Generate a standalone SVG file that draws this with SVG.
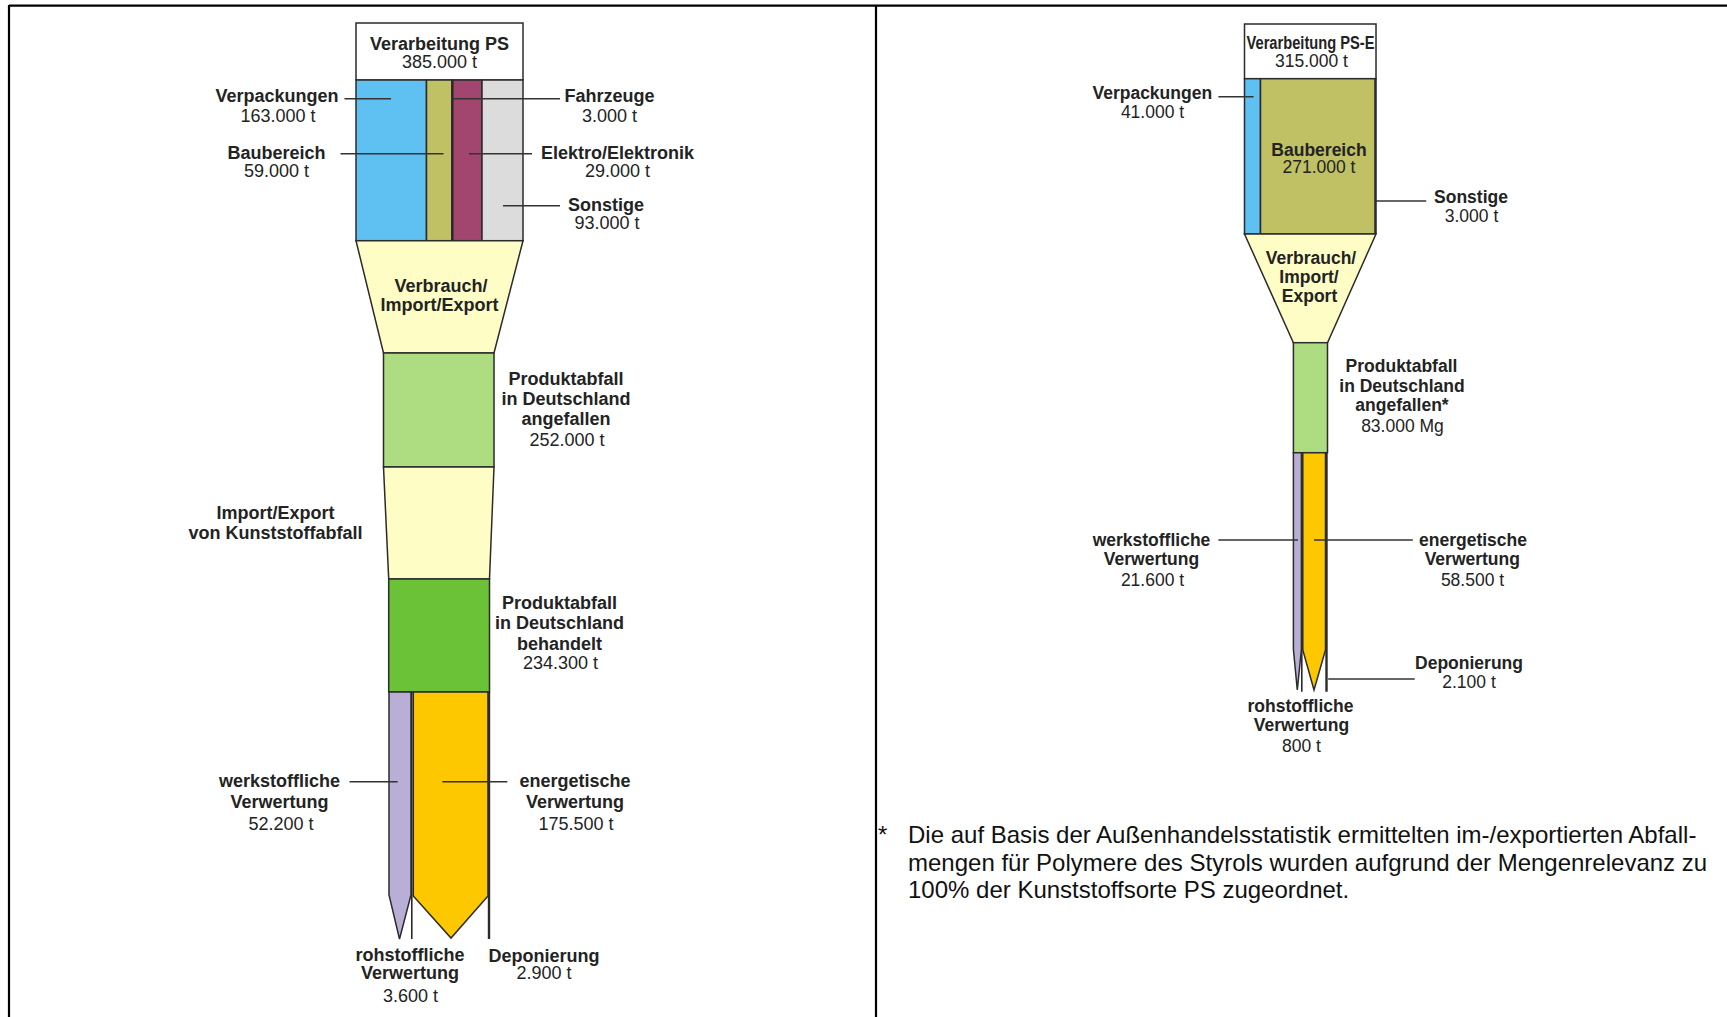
<svg xmlns="http://www.w3.org/2000/svg" width="1727" height="1017" viewBox="0 0 1727 1017">
  <style>
    text { font-family: "Liberation Sans", Arial, sans-serif; fill: #232323; text-anchor: middle; }
    .b { font-weight: bold; font-size: 18px; }
    .n { font-size: 18px; }
    .rb { font-weight: bold; font-size: 17.5px; }
    .rn { font-size: 17.5px; }
    .note { font-size: 24px; text-anchor: start; fill: #111; }
    .shape { stroke: #2b2b2b; stroke-width: 1.5; stroke-linejoin: miter; }
    .thin { stroke: #2b2b2b; stroke-width: 1.6; fill: none; }
    .thick { stroke: #2b2b2b; stroke-width: 2.4; fill: none; }
    .lead { stroke: #333; stroke-width: 1.6; fill: none; }
    .frame { stroke: #000; stroke-width: 2.2; fill: none; }
    .white { fill: #ffffff; }
    .blue { fill: #5fc0f2; }
    .olive { fill: #c0c064; }
    .purple { fill: #a3466f; }
    .grey { fill: #dcdcdc; }
    .cream { fill: #fffdc6; }
    .lgreen { fill: #addd80; }
    .dgreen { fill: #6bc236; }
    .lav { fill: #b9afd6; }
    .amber { fill: #fdc800; }
  </style>

  <rect width="1727" height="1017" fill="#ffffff"/>

  <!-- page frame and column divider -->
  <g id="frame">
    <line class="frame" x1="9" y1="5.7" x2="1727" y2="5.7"/>
    <line class="frame" x1="9" y1="5" x2="9" y2="1017"/>
    <line class="frame" x1="876" y1="5" x2="876" y2="1017"/>
  </g>

  <!-- ===== PS (left column) ===== -->
  <g id="ps-verarbeitung">
    <rect class="shape white" x="356" y="23" width="167" height="57"/>
    <text class="b" x="439.5" y="49.5">Verarbeitung PS</text>
    <text class="n" x="439.5" y="68">385.000 t</text>
  </g>

  <g id="ps-verpackungen">
    <rect class="shape blue" x="356" y="80" width="70.5" height="160.7"/>
    <text class="b" x="277" y="102">Verpackungen</text>
    <text class="n" x="278" y="121.5">163.000 t</text>
  </g>
  <g id="ps-baubereich">
    <rect class="shape olive" x="426.5" y="80" width="25.3" height="160.7"/>
    <text class="b" x="276.5" y="158.7">Baubereich</text>
    <text class="n" x="276.5" y="177">59.000 t</text>
  </g>
  <g id="ps-elektro">
    <rect class="shape purple" x="451.8" y="80" width="30.2" height="160.7"/>
    <text class="b" x="617.5" y="158.7">Elektro/Elektronik</text>
    <text class="n" x="617.5" y="177">29.000 t</text>
  </g>
  <g id="ps-fahrzeuge">
    <line class="thin" x1="452.8" y1="80" x2="452.8" y2="240.7"/>
    <text class="b" x="609.5" y="102">Fahrzeuge</text>
    <text class="n" x="609.5" y="121.5">3.000 t</text>
  </g>
  <g id="ps-sonstige">
    <rect class="shape grey" x="482" y="80" width="41" height="160.7"/>
    <text class="b" x="606" y="210.5">Sonstige</text>
    <text class="n" x="607" y="228.7">93.000 t</text>
  </g>

  <g id="ps-verbrauch">
    <polygon class="shape cream" points="356,240.7 523,240.7 494,353 383.5,353"/>
    <text class="b" x="441" y="291.5">Verbrauch/</text>
    <text class="b" x="439.5" y="311">Import/Export</text>
  </g>

  <g id="ps-angefallen">
    <rect class="shape lgreen" x="383.5" y="353" width="110.5" height="114"/>
    <text class="b" x="566" y="385">Produktabfall</text>
    <text class="b" x="566" y="405">in Deutschland</text>
    <text class="b" x="566" y="425">angefallen</text>
    <text class="n" x="567" y="445.5">252.000 t</text>
  </g>

  <g id="ps-import-export">
    <polygon class="shape cream" points="383.5,467 494,467 489.5,579 388.7,579"/>
    <text class="b" x="275.5" y="519">Import/Export</text>
    <text class="b" x="275.5" y="539">von Kunststoffabfall</text>
  </g>

  <g id="ps-behandelt">
    <rect class="shape dgreen" x="388.7" y="579" width="100.8" height="113"/>
    <text class="b" x="559.5" y="609.3">Produktabfall</text>
    <text class="b" x="559.5" y="629">in Deutschland</text>
    <text class="b" x="559.5" y="649.5">behandelt</text>
    <text class="n" x="560.5" y="668.5">234.300 t</text>
  </g>

  <g id="ps-werkstofflich">
    <polygon class="shape lav" points="389,692 411,692 411,895 399.5,939 389,895"/>
    <text class="b" x="279.5" y="787">werkstoffliche</text>
    <text class="b" x="279.5" y="808">Verwertung</text>
    <text class="n" x="281" y="830">52.200 t</text>
  </g>
  <g id="ps-rohstofflich">
    <line class="thin" x1="411.8" y1="692" x2="411.8" y2="939"/>
    <text class="b" x="410" y="961">rohstoffliche</text>
    <text class="b" x="410" y="979">Verwertung</text>
    <text class="n" x="410.5" y="1001.5">3.600 t</text>
  </g>
  <g id="ps-energetisch">
    <polygon class="shape amber" points="413.3,692 488,692 488,896 451,938 413.3,896"/>
    <text class="b" x="575" y="787">energetische</text>
    <text class="b" x="575" y="808">Verwertung</text>
    <text class="n" x="576" y="830">175.500 t</text>
  </g>
  <g id="ps-deponierung">
    <line class="thick" x1="489" y1="692" x2="489" y2="939"/>
    <text class="b" x="544" y="961.5">Deponierung</text>
    <text class="n" x="544" y="979">2.900 t</text>
  </g>

  <!-- ===== PS-E (right column) ===== -->
  <g id="pse-verarbeitung">
    <rect class="shape white" x="1244.5" y="24" width="131.5" height="54.7"/>
    <text class="rb" x="1310.5" y="49.3" textLength="128" lengthAdjust="spacingAndGlyphs">Verarbeitung PS-E</text>
    <text class="rn" x="1311.5" y="66.7">315.000 t</text>
  </g>

  <g id="pse-verpackungen">
    <rect class="shape blue" x="1244.5" y="78.7" width="16" height="155.3"/>
    <text class="rb" x="1152.3" y="98.7">Verpackungen</text>
    <text class="rn" x="1152.5" y="118.3">41.000 t</text>
  </g>
  <g id="pse-baubereich">
    <rect class="shape olive" x="1260.5" y="78.7" width="115" height="155.3"/>
    <text class="rb" x="1319" y="155.7">Baubereich</text>
    <text class="rn" x="1319" y="172.7">271.000 t</text>
  </g>
  <g id="pse-sonstige">
    <line class="thick" x1="1375.5" y1="78.7" x2="1375.5" y2="234"/>
    <text class="rb" x="1471" y="203.3">Sonstige</text>
    <text class="rn" x="1471.5" y="221.7">3.000 t</text>
  </g>

  <g id="pse-verbrauch">
    <polygon class="shape cream" points="1244.5,234 1376,234 1327.5,342.7 1293.4,342.7"/>
    <text class="rb" x="1311" y="264.3">Verbrauch/</text>
    <text class="rb" x="1309" y="283.3">Import/</text>
    <text class="rb" x="1309.5" y="302.3">Export</text>
  </g>

  <g id="pse-angefallen">
    <rect class="shape lgreen" x="1293.4" y="342.7" width="34.1" height="110"/>
    <text class="rb" x="1401.5" y="372.3">Produktabfall</text>
    <text class="rb" x="1402" y="391.7">in Deutschland</text>
    <text class="rb" x="1402" y="410.7">angefallen*</text>
    <text class="rn" x="1402.5" y="431.7">83.000 Mg</text>
  </g>

  <g id="pse-werkstofflich">
    <polygon class="shape lav" points="1293.4,452.7 1301.4,452.7 1301.4,649.5 1297.3,690 1293.4,649.5"/>
    <text class="rb" x="1151.5" y="546">werkstoffliche</text>
    <text class="rb" x="1151.5" y="564.5">Verwertung</text>
    <text class="rn" x="1152.5" y="586">21.600 t</text>
  </g>
  <g id="pse-rohstofflich">
    <line class="thin" x1="1301.8" y1="452.7" x2="1301.8" y2="691.7"/>
    <text class="rb" x="1300.5" y="712.3">rohstoffliche</text>
    <text class="rb" x="1301.5" y="730.7">Verwertung</text>
    <text class="rn" x="1301.5" y="751.7">800 t</text>
  </g>
  <g id="pse-energetisch">
    <polygon class="shape amber" points="1302.8,452.7 1325.5,452.7 1325.5,650 1314,690 1302.8,650"/>
    <text class="rb" x="1473" y="546">energetische</text>
    <text class="rb" x="1472.3" y="564.5">Verwertung</text>
    <text class="rn" x="1472.5" y="586">58.500 t</text>
  </g>
  <g id="pse-deponierung">
    <line class="thick" x1="1326.5" y1="452.7" x2="1326.5" y2="691.7"/>
    <text class="rb" x="1469" y="669">Deponierung</text>
    <text class="rn" x="1469" y="688.3">2.100 t</text>
  </g>

  <!-- leader lines from labels to segments -->
  <g id="connectors">
    <line class="lead" x1="344.5" y1="98.7" x2="391" y2="98.7"/>
    <line class="lead" x1="340.5" y1="153.7" x2="443.5" y2="153.7"/>
    <line class="lead" x1="453" y1="98.7" x2="560" y2="98.7"/>
    <line class="lead" x1="469" y1="153.7" x2="532" y2="153.7"/>
    <line class="lead" x1="503" y1="205.7" x2="560" y2="205.7"/>
    <line class="lead" x1="349.5" y1="781.7" x2="397.7" y2="781.7"/>
    <line class="lead" x1="442.3" y1="781.7" x2="507.3" y2="781.7"/>

    <line class="lead" x1="1218.4" y1="96.7" x2="1253.6" y2="96.7"/>
    <line class="lead" x1="1376" y1="201" x2="1426.2" y2="201"/>
    <line class="lead" x1="1218.4" y1="540" x2="1298" y2="540"/>
    <line class="lead" x1="1314" y1="540" x2="1412.8" y2="540"/>
    <line class="lead" x1="1328.2" y1="679" x2="1414.7" y2="679"/>
  </g>

  <!-- footnote -->
  <g id="footnote">
    <text class="note" x="878" y="843">*</text>
    <text class="note" x="908" y="843">Die auf Basis der Außenhandelsstatistik ermittelten im-/exportierten Abfall-</text>
    <text class="note" x="908" y="870.5">mengen für Polymere des Styrols wurden aufgrund der Mengenrelevanz zu</text>
    <text class="note" x="908" y="898">100% der Kunststoffsorte PS zugeordnet.</text>
  </g>
</svg>
